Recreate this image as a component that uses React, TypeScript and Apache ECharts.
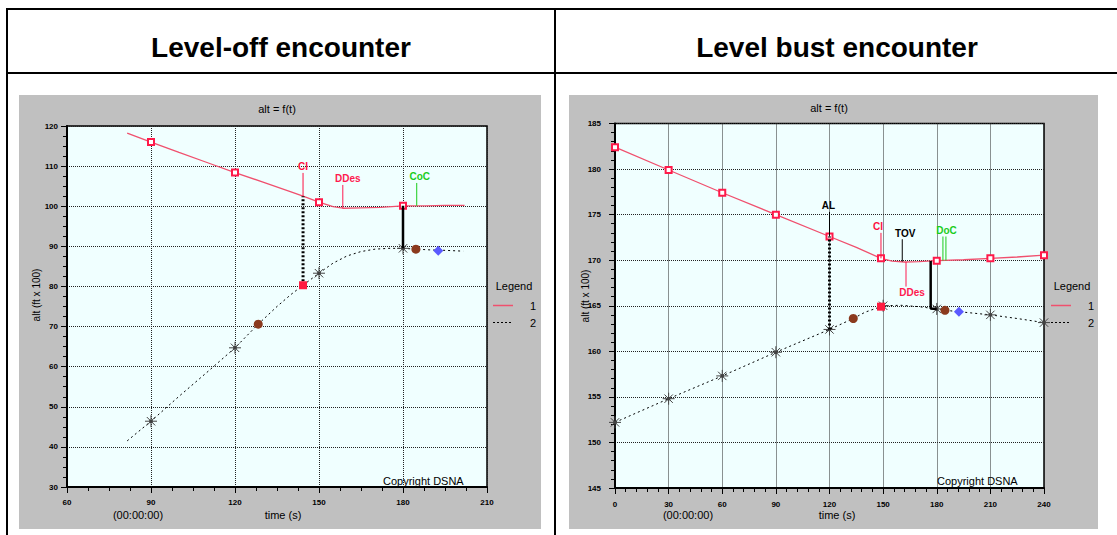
import React, { useEffect, useRef } from "react";
import * as echarts from "echarts";

// ---------- Texts ----------
const headers = ["Level-off encounter", "Level bust encounter"];
const chartTitle = "alt = f(t)";
const yName = "alt (ft x 100)";
const xName = "time (s)";
const timeOrigin = "(00:00:00)";
const copyright = "Copyright DSNA";
const legendTitle = "Legend";
const seriesNames = ["1", "2"];

// ---------- Left chart: level-off ----------
const leftX = { min: 60, max: 210, interval: 30 };
const leftY = { min: 30, max: 120, interval: 10 };
const leftTraj1: number[][] = [
  [81.5, 118.2], [90, 116], [100, 113.4], [110, 110.9], [120, 108.4], [130, 106],
  [140, 103.6], [144.3, 102.5], [150, 101], [155, 99.9], [158.5, 99.5], [165, 99.6],
  [172, 99.7], [180, 100.1], [188, 100.1], [195, 100.2], [202, 100.2],
];
const leftTraj1Marks = [90, 120, 150, 180];
const leftTraj2: number[][] = [
  [81.5, 41.5], [90, 46.4], [100, 52.6], [110, 58.6], [120, 64.7], [128.3, 70.6],
  [135, 75], [140, 78], [144.3, 80.3], [150, 83.3], [155, 85.8], [160, 87.6],
  [165, 88.7], [170, 89.3], [175, 89.5], [180, 89.5], [184.6, 89.3], [190, 89.1],
  [195, 89], [201.5, 88.8],
];
const leftTraj2Marks = [90, 120, 150, 180];
const leftBrown: number[][] = [[128.3, 70.6], [184.6, 89.3]];
const leftBlue: number[][] = [[192.6, 88.9]];
const leftRedSq: number[][] = [[144.3, 80.3]];
const leftDottedLink: number[][] = [[144.3, 80.3], [144.3, 102.5]];
const leftSolidLink: number[][] = [[180, 89.5], [180, 100.1]];
const leftEvents = [
  { name: "CI", t: 144.3, base: 102.5, tip: 108.3 },
  { name: "DDes", t: 158.5, base: 99.5, tip: 105.3 },
  { name: "CoC", t: 184.9, base: 100.1, tip: 105.8 },
];

// ---------- Right chart: level bust ----------
const rightX = { min: 0, max: 240, interval: 30 };
const rightY = { min: 145, max: 185, interval: 5 };
const rightTraj1: number[][] = [
  [0, 182.4], [30, 179.9], [60, 177.4], [90, 175.0], [120, 172.6], [135, 171.4],
  [148.8, 170.2], [155, 169.9], [162, 169.8], [170, 169.85], [180, 169.95],
  [195, 170.05], [210, 170.2], [225, 170.35], [240, 170.55],
];
const rightTraj1Marks = [0, 30, 60, 90, 120, 148.8, 180, 210, 240];
const rightTraj2: number[][] = [
  [0, 152.2], [30, 154.8], [60, 157.3], [90, 159.9], [120, 162.4], [133.3, 163.6],
  [140, 164.3], [148.8, 164.9], [150, 165.0], [160, 165.05], [170, 164.9],
  [180, 164.65], [184.6, 164.5], [192.4, 164.35], [210, 164.0], [225, 163.6],
  [240, 163.15],
];
const rightTraj2Marks = [0, 30, 60, 90, 120, 150, 180, 210, 240];
const rightBrown: number[][] = [[133.3, 163.6], [184.6, 164.5]];
const rightBlue: number[][] = [[192.4, 164.35]];
const rightRedSq: number[][] = [[148.8, 164.9]];
const rightDottedLink: number[][] = [[120, 162.4], [120, 172.6]];
const rightSolidLink: number[][] = [[176.6, 169.9], [176.6, 164.7], [180, 164.65]];
const rightEvents = [
  { name: "AL", t: 120, base: 172.6, tip: 175.3 },
  { name: "CI", t: 148.8, base: 170.2, tip: 173.0 },
  { name: "TOV", t: 160.7, base: 169.85, tip: 172.3 },
  { name: "DDes", t: 162.8, base: 169.8, tip: 167.1 },
  { name: "DoC", t: 184.3, base: 169.95, tip: 172.6 },
];

// ---------- styles ----------
const RED_LINE = "#f0506e";
const RED_MARK = "#ff1a4a";
const EVENT_COLORS: Record<string, string> = {
  CI: "#ff1040", DDes: "#ff1a50", CoC: "#1ccc1c", DoC: "#1ccc1c", TOV: "#000", AL: "#000",
};
const LEFT_DX: Record<string, number> = { CI: 0, DDes: 5, CoC: 3 };
const RIGHT_DX: Record<string, number> = { AL: -1, CI: -3, TOV: 3, DDes: 6, DoC: 2 };
const DOUBLE_STEM: Record<string, boolean> = { DoC: true };
const STAR = "path://M0 5L10 5M5 0L5 10M1.5 1.5L8.5 8.5M8.5 1.5L1.5 8.5M4 4L6 4L6 6L4 6Z";
const FONT = "Liberation Sans";

function axisCommon(labelMargin: number, minorSplit: number) {
  return {
    type: "value" as const,
    axisLine: { show: true, onZero: false, lineStyle: { color: "#000", width: 2 } },
    axisTick: { show: true, length: 6, lineStyle: { color: "#000", width: 1 } },
    minorTick: { show: true, splitNumber: minorSplit, length: 4, lineStyle: { color: "#000", width: 1 } },
    splitLine: { show: true, lineStyle: { color: "#222", type: [1, 1], width: 1 } },
    axisLabel: { fontSize: 8, fontWeight: "bold", color: "#000", margin: labelMargin, fontFamily: FONT },
  };
}

function trajSeries(idx: number, data: number[][], marks: number[], which: number) {
  const isRed = which === 0;
  return {
    type: "line",
    name: seriesNames[which],
    xAxisIndex: idx,
    yAxisIndex: idx,
    clip: false,
    showAllSymbol: true,
    symbol: isRed ? "emptyRect" : STAR,
    symbolSize: isRed ? 6 : 12,
    data: data.map((d) => ({
      value: d,
      symbol: marks.includes(d[0]) ? (isRed ? "emptyRect" : STAR) : "none",
    })),
    lineStyle: isRed
      ? { color: RED_LINE, width: 1.3 }
      : { color: "#000", width: 1, type: [2, 3] },
    itemStyle: isRed
      ? { color: RED_MARK, borderColor: RED_MARK, borderWidth: 1 }
      : { color: "#000", borderColor: "#444", borderWidth: 1 },
    z: isRed ? 4 : 3,
    silent: true,
  };
}

function markSeries(idx: number, data: number[][], symbol: string, size: number, color: string) {
  return {
    type: "scatter",
    xAxisIndex: idx,
    yAxisIndex: idx,
    data,
    symbol,
    symbolSize: size,
    itemStyle: { color, opacity: 1 },
    z: 6,
    silent: true,
  };
}

function linkSeries(idx: number, data: number[][], dotted: boolean) {
  return {
    type: "line",
    xAxisIndex: idx,
    yAxisIndex: idx,
    data,
    symbol: "none",
    lineStyle: { color: "#000", width: dotted ? 3 : 2.5, type: dotted ? [2, 2] : "solid" },
    z: 5,
    silent: true,
  };
}

function eventSeries(idx: number, events: { name: string; t: number; base: number; tip: number }[], dx: Record<string, number>) {
  return {
    type: "custom",
    xAxisIndex: idx,
    yAxisIndex: idx,
    silent: true,
    clip: false,
    z: 7,
    data: events.map((e, i) => [e.t, e.base, e.tip, i]),
    renderItem: (_params: any, api: any) => {
      const e = events[api.value(3)];
      const p0 = api.coord([api.value(0), api.value(1)]);
      const p1 = api.coord([api.value(0), api.value(2)]);
      const up = e.tip > e.base;
      const color = EVENT_COLORS[e.name];
      const xs = DOUBLE_STEM[e.name] ? [p0[0] - 1.5, p0[0] + 1.5] : [p0[0]];
      const children: any[] = xs.map((x) => ({
        type: "line",
        shape: { x1: x, y1: p0[1], x2: x, y2: p1[1] },
        style: { stroke: color, lineWidth: 1 },
      }));
      children.push({
        type: "text",
        x: p1[0] + (dx[e.name] || 0),
        y: up ? p1[1] - 1 : p1[1] + 1,
        style: {
          text: e.name,
          fill: color,
          fontSize: 10,
          fontWeight: "bold",
          fontFamily: FONT,
          align: "center",
          verticalAlign: up ? "bottom" : "top",
        },
      });
      return { type: "group", children };
    },
  };
}

function txt(x: number, y: number, text: string, opts: any = {}) {
  const { rotation, ...style } = opts;
  return {
    type: "text",
    x,
    y,
    rotation: rotation || 0,
    z: 50,
    silent: true,
    style: {
      text,
      fill: "#000",
      fontSize: 11,
      fontFamily: FONT,
      align: "center",
      verticalAlign: "middle",
      ...style,
    },
  };
}

function ln(x1: number, y1: number, x2: number, y2: number, stroke: string, lineWidth: number, lineDash?: number[]) {
  return {
    type: "line",
    z: 50,
    silent: true,
    shape: { x1, y1, x2, y2 },
    style: { stroke, lineWidth, lineDash: lineDash || null },
  };
}

export default function App() {
  const ref = useRef<HTMLDivElement>(null);

  useEffect(() => {
    if (!ref.current) return;
    const chart = echarts.init(ref.current, null, { renderer: "svg" });

    const graphics: any[] = [
      // grey panels
      { type: "rect", z: -10, silent: true, shape: { x: 19, y: 95, width: 522, height: 434 }, style: { fill: "#c0c0c0" } },
      { type: "rect", z: -10, silent: true, shape: { x: 569, y: 95, width: 529, height: 434 }, style: { fill: "#c0c0c0" } },
      // table lines
      ln(6, 9, 1117, 9, "#000", 2),
      ln(6, 73, 1117, 73, "#000", 2),
      ln(7, 8, 7, 535, "#000", 2),
      ln(555, 8, 555, 535, "#000", 2),
      // headers
      txt(281, 47, headers[0], { fontSize: 28, fontWeight: "bold" }),
      txt(837, 47, headers[1], { fontSize: 28, fontWeight: "bold" }),
      // chart titles
      txt(277, 109, chartTitle, { fontSize: 11 }),
      txt(829, 108, chartTitle, { fontSize: 11 }),
      // y names
      txt(36, 295, yName, { fontSize: 10, rotation: Math.PI / 2 }),
      txt(585, 296, yName, { fontSize: 10, rotation: Math.PI / 2 }),
      // x names
      txt(138, 515, timeOrigin, { fontSize: 11 }),
      txt(283, 515, xName, { fontSize: 11 }),
      txt(688, 515, timeOrigin, { fontSize: 11 }),
      txt(837, 515, xName, { fontSize: 11 }),
      // copyright
      txt(383, 481, copyright, { fontSize: 11, align: "left" }),
      txt(937, 481, copyright, { fontSize: 11, align: "left" }),
      // legends
      txt(514, 286, legendTitle, { fontSize: 11 }),
      ln(493, 305.5, 513, 305.5, RED_LINE, 1.5),
      txt(533, 306, seriesNames[0], { fontSize: 11 }),
      ln(493, 322.5, 513, 322.5, "#000", 1, [2, 2]),
      txt(533, 323, seriesNames[1], { fontSize: 11 }),
      txt(1072, 286, legendTitle, { fontSize: 11 }),
      ln(1051, 305.5, 1071, 305.5, RED_LINE, 1.5),
      txt(1091, 306, seriesNames[0], { fontSize: 11 }),
      ln(1051, 322.5, 1071, 322.5, "#000", 1, [2, 2]),
      txt(1091, 323, seriesNames[1], { fontSize: 11 }),
    ];

    chart.setOption({
      animation: false,
      backgroundColor: "#fff",
      textStyle: { fontFamily: FONT },
      grid: [
        { left: 67, top: 126, width: 420, height: 361, show: true, backgroundColor: "#f0ffff", borderColor: "#000", borderWidth: 1.5 },
        { left: 615, top: 123.5, width: 429, height: 364.5, show: true, backgroundColor: "#f0ffff", borderColor: "#000", borderWidth: 1.5 },
      ],
      xAxis: [
        { gridIndex: 0, ...axisCommon(11, 4), ...leftX },
        { gridIndex: 1, ...axisCommon(12, 5), ...rightX },
      ],
      yAxis: [
        { gridIndex: 0, ...axisCommon(9, 4), ...leftY },
        { gridIndex: 1, ...axisCommon(14, 5), ...rightY },
      ],
      graphic: { elements: graphics },
      series: [
        trajSeries(0, leftTraj2, leftTraj2Marks, 1),
        trajSeries(0, leftTraj1, leftTraj1Marks, 0),
        linkSeries(0, leftDottedLink, true),
        linkSeries(0, leftSolidLink, false),
        markSeries(0, leftBrown, "circle", 9, "#8b3a1e"),
        markSeries(0, leftBlue, "diamond", 10, "#5a5aff"),
        markSeries(0, leftRedSq, "rect", 8, "#ff1a40"),
        eventSeries(0, leftEvents, LEFT_DX),
        trajSeries(1, rightTraj2, rightTraj2Marks, 1),
        trajSeries(1, rightTraj1, rightTraj1Marks, 0),
        linkSeries(1, rightDottedLink, true),
        linkSeries(1, rightSolidLink, false),
        markSeries(1, rightBrown, "circle", 9, "#8b3a1e"),
        markSeries(1, rightBlue, "diamond", 10, "#5a5aff"),
        markSeries(1, rightRedSq, "rect", 8, "#ff1a40"),
        eventSeries(1, rightEvents, RIGHT_DX),
      ],
    });

    return () => chart.dispose();
  }, []);

  return (
    <div
      ref={ref}
      style={{ position: "fixed", left: 0, top: 0, width: 1117, height: 535, background: "#fff" }}
    />
  );
}
